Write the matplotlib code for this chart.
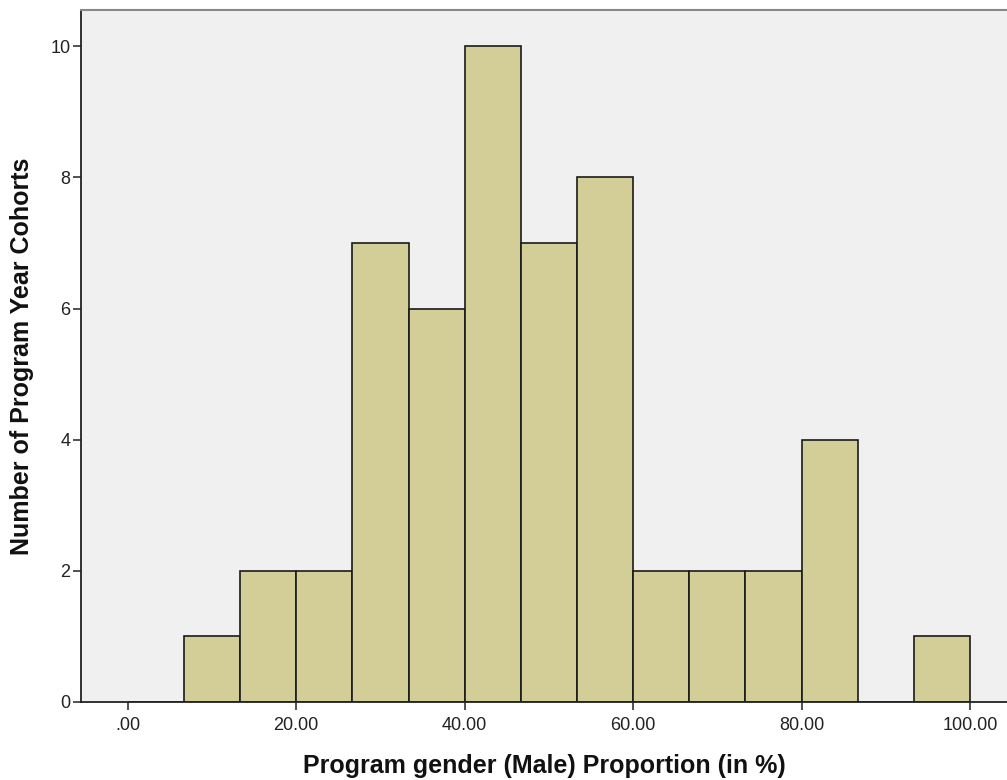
import numpy as np
import matplotlib
matplotlib.use("Agg")
import matplotlib.pyplot as plt
from matplotlib.ticker import FixedLocator

# Histogram bins: 15 equal-width bins spanning 0-100 %
bin_edges = np.linspace(0, 100, 16)
counts = [0, 1, 2, 2, 7, 6, 10, 7, 8, 2, 2, 2, 4, 0, 1]

x_ticks = [0, 20, 40, 60, 80, 100]
x_tick_labels = [".00", "20.00", "40.00", "60.00", "80.00", "100.00"]
y_ticks = [0, 2, 4, 6, 8, 10]

plt.rcParams["font.family"] = ["Liberation Sans", "DejaVu Sans"]

fig = plt.figure(figsize=(10.07, 7.80), dpi=100)
ax = fig.add_axes([0.0809, 0.1, 0.9191, 0.887])
ax.set_facecolor("#F0F0F0")

widths = np.diff(bin_edges)
ax.bar(bin_edges[:-1], counts, width=widths, align="edge",
       color="#D3CE98", edgecolor="#1a1a1a", linewidth=1.2, zorder=2)

ax.set_xlim(-5.5, 104.4)
ax.set_ylim(0, 10.55)

ax.xaxis.set_major_locator(FixedLocator(x_ticks))
ax.set_xticklabels(x_tick_labels)
ax.yaxis.set_major_locator(FixedLocator(y_ticks))

ax.tick_params(axis="both", direction="out", length=6, width=1.2,
               color="#333333", labelsize=13, labelcolor="#222222")
ax.tick_params(axis="x", pad=5)
ax.tick_params(axis="y", pad=2)

for side in ("left", "bottom"):
    ax.spines[side].set_color("#222222")
    ax.spines[side].set_linewidth(1.3)
ax.spines["top"].set_color("#888888")
ax.spines["top"].set_linewidth(1.5)
ax.spines["right"].set_visible(False)

ax.set_xlabel("Program gender (Male) Proportion (in %)", fontsize=18,
              fontweight="bold", labelpad=14, color="#111111")
ax.set_ylabel("Number of Program Year Cohorts", fontsize=18,
              fontweight="bold", labelpad=12, color="#111111")

fig.savefig("out.png", dpi=100, facecolor="white")
